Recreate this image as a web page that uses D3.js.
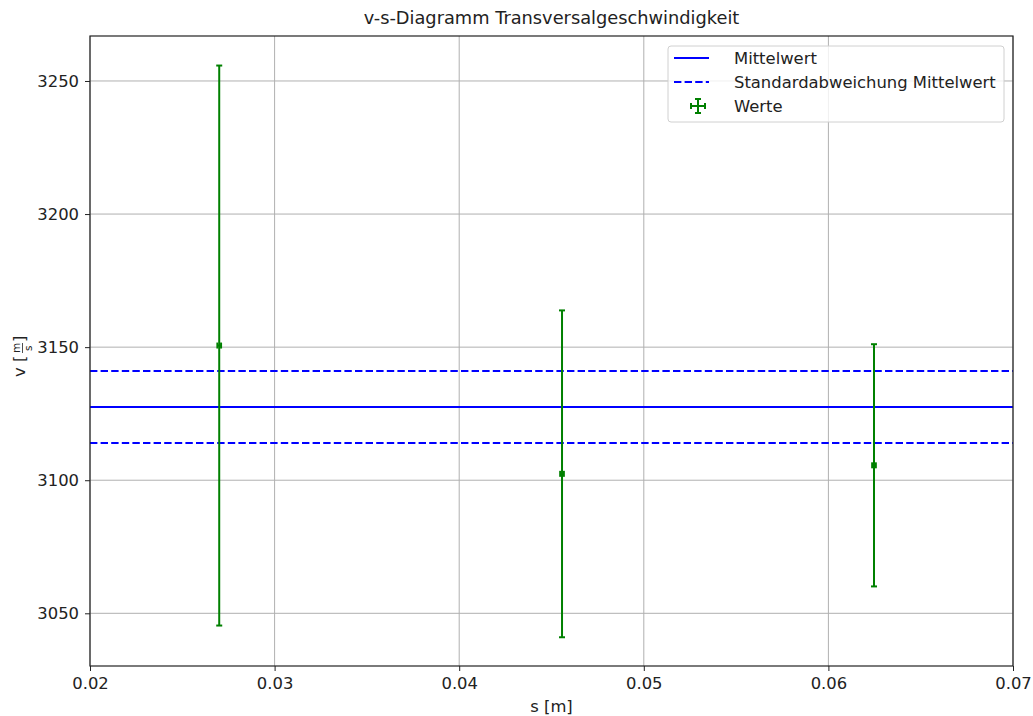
<!DOCTYPE html>
<html>
<head>
<meta charset="utf-8">
<script src="https://cdn.jsdelivr.net/npm/d3@7"></script>
<style>
  body { margin: 0; background: #fff; }
  svg { font-family: "DejaVu Sans", sans-serif; }
</style>
</head>
<body>
<svg id="chart" width="1033" height="716"></svg>
<script>
// Measured transverse velocities with uncertainties
const positions = [0.0270, 0.04557, 0.06247];      // s [m]
const velocities = [3150.6, 3102.4, 3105.6];       // v [m/s]
const velocityErr = [105.2, 61.4, 45.5];           // Δv [m/s]
const positionErr = [0.0001, 0.0001, 0.0001];      // Δs [m]
const meanValue = 3127.5;                          // Mittelwert
const meanStd = 13.5;                              // Standardabweichung Mittelwert
const xTicks = [0.02, 0.03, 0.04, 0.05, 0.06, 0.07];
const yTicks = [3050, 3100, 3150, 3200, 3250];
const legendLabels = ["Mittelwert", "Standardabweichung Mittelwert", "Werte"];

const svg = d3.select("#chart");
const margin = { left: 90, right: 20, top: 36, bottom: 50 };
const W = 1033, H = 716;
const x = d3.scaleLinear().domain([0.02, 0.07]).range([margin.left, W - margin.right]);
const y = d3.scaleLinear().domain([3030.2, 3266.9]).range([H - margin.bottom, margin.top]);

const green = "#008000", blue = "#0000ff";
const fs = 16.4;

// grid
svg.append("g").selectAll("line").data(xTicks).join("line")
  .attr("x1", d => x(d)).attr("x2", d => x(d))
  .attr("y1", y.range()[1]).attr("y2", y.range()[0])
  .attr("stroke", "#b0b0b0").attr("stroke-width", 1);
svg.append("g").selectAll("line").data(yTicks).join("line")
  .attr("y1", d => y(d)).attr("y2", d => y(d))
  .attr("x1", x.range()[0]).attr("x2", x.range()[1])
  .attr("stroke", "#b0b0b0").attr("stroke-width", 1);

// mean and std lines
const plot = svg.append("g");
plot.append("line")
  .attr("x1", x.range()[0]).attr("x2", x.range()[1])
  .attr("y1", y(meanValue)).attr("y2", y(meanValue))
  .attr("stroke", blue).attr("stroke-width", 2);
[meanValue + meanStd, meanValue - meanStd].forEach(v => {
  plot.append("line")
    .attr("x1", x.range()[0]).attr("x2", x.range()[1])
    .attr("y1", y(v)).attr("y2", y(v))
    .attr("stroke", blue).attr("stroke-width", 2)
    .attr("stroke-dasharray", "7.4,3.2");
});

// error bars
const pts = positions.map((s, i) => ({ s, v: velocities[i], dv: velocityErr[i], ds: positionErr[i] }));
const cap = 3;
const eb = plot.append("g").attr("stroke", green).attr("stroke-width", 2);
pts.forEach(p => {
  const cx = x(p.s), cy = y(p.v);
  const yt = y(p.v + p.dv), yb = y(p.v - p.dv);
  eb.append("line").attr("x1", cx).attr("x2", cx).attr("y1", yt).attr("y2", yb);
  eb.append("line").attr("x1", cx - cap).attr("x2", cx + cap).attr("y1", yt).attr("y2", yt);
  eb.append("line").attr("x1", cx - cap).attr("x2", cx + cap).attr("y1", yb).attr("y2", yb);
  const xl = x(p.s - p.ds), xr = x(p.s + p.ds);
  eb.append("line").attr("x1", xl).attr("x2", xr).attr("y1", cy).attr("y2", cy);
  eb.append("line").attr("x1", xl).attr("x2", xl).attr("y1", cy - cap).attr("y2", cy + cap);
  eb.append("line").attr("x1", xr).attr("x2", xr).attr("y1", cy - cap).attr("y2", cy + cap);
});

// axes
const xAxis = svg.append("g").attr("transform", `translate(0,${y.range()[0]})`)
  .call(d3.axisBottom(x).tickValues(xTicks).tickFormat(d3.format(".2f")).tickSize(5).tickPadding(6).tickSizeOuter(0));
const yAxis = svg.append("g").attr("transform", `translate(${x.range()[0]},0)`)
  .call(d3.axisLeft(y).tickValues(yTicks).tickFormat(d3.format("d")).tickSize(5).tickPadding(6).tickSizeOuter(0));
[xAxis, yAxis].forEach(a => {
  a.select(".domain").remove();
  a.selectAll("text").attr("font-size", fs).attr("fill", "#222").attr("font-family", "DejaVu Sans");
  a.selectAll(".tick line").attr("stroke", "#222").attr("stroke-width", 1);
});

// frame
svg.append("rect")
  .attr("x", x.range()[0]).attr("y", y.range()[1])
  .attr("width", x.range()[1] - x.range()[0]).attr("height", y.range()[0] - y.range()[1])
  .attr("fill", "none").attr("stroke", "#222").attr("stroke-width", 1.2);

// title
svg.append("text").attr("x", (x.range()[0] + x.range()[1]) / 2).attr("y", 24)
  .attr("text-anchor", "middle").attr("font-size", 17.8).attr("fill", "#222")
  .text("v-s-Diagramm Transversalgeschwindigkeit");

// x label
svg.append("text").attr("x", (x.range()[0] + x.range()[1]) / 2).attr("y", 712)
  .attr("text-anchor", "middle").attr("font-size", fs).attr("fill", "#222")
  .text("s [m]");

// y label with fraction m/s
const yl = svg.append("g").attr("transform", `translate(25,${(y.range()[0] + y.range()[1]) / 2}) rotate(-90)`)
  .attr("fill", "#222");
yl.append("text").attr("x", -26).attr("y", 0).attr("font-size", fs).text("v [");
yl.append("text").attr("x", -2).attr("y", -5).attr("font-size", 10.5).text("m");
yl.append("text").attr("x", 0).attr("y", 7).attr("font-size", 10.5).text("s");
yl.append("line").attr("x1", -2).attr("x2", 8).attr("y1", -2.5).attr("y2", -2.5)
  .attr("stroke", "#222").attr("stroke-width", 0.8);
yl.append("text").attr("x", 9).attr("y", 0).attr("font-size", fs).text("]");

// legend
const lg = svg.append("g").attr("transform", "translate(668,46)");
lg.append("rect").attr("width", 336).attr("height", 76).attr("rx", 3)
  .attr("fill", "rgba(255,255,255,0.8)").attr("stroke", "#d0d0d0").attr("stroke-width", 1);
const rows = [12, 36, 60];
lg.append("line").attr("x1", 6).attr("x2", 41).attr("y1", rows[0]).attr("y2", rows[0])
  .attr("stroke", blue).attr("stroke-width", 2);
lg.append("line").attr("x1", 6).attr("x2", 41).attr("y1", rows[1]).attr("y2", rows[1])
  .attr("stroke", blue).attr("stroke-width", 2).attr("stroke-dasharray", "7.4,3.2");
const lw = lg.append("g").attr("stroke", green).attr("stroke-width", 2);
lw.append("line").attr("x1", 30).attr("x2", 30).attr("y1", rows[2] - 7).attr("y2", rows[2] + 7);
lw.append("line").attr("x1", 27).attr("x2", 33).attr("y1", rows[2] - 7).attr("y2", rows[2] - 7);
lw.append("line").attr("x1", 27).attr("x2", 33).attr("y1", rows[2] + 7).attr("y2", rows[2] + 7);
lw.append("line").attr("x1", 23).attr("x2", 37).attr("y1", rows[2]).attr("y2", rows[2]);
lw.append("line").attr("x1", 23).attr("x2", 23).attr("y1", rows[2] - 3).attr("y2", rows[2] + 3);
lw.append("line").attr("x1", 37).attr("x2", 37).attr("y1", rows[2] - 3).attr("y2", rows[2] + 3);
lg.selectAll("text.lab").data(legendLabels).join("text").attr("class", "lab")
  .attr("x", 66).attr("y", (d, i) => rows[i] + 6).attr("font-size", fs).attr("fill", "#222")
  .text(d => d);
</script>
</body>
</html>
